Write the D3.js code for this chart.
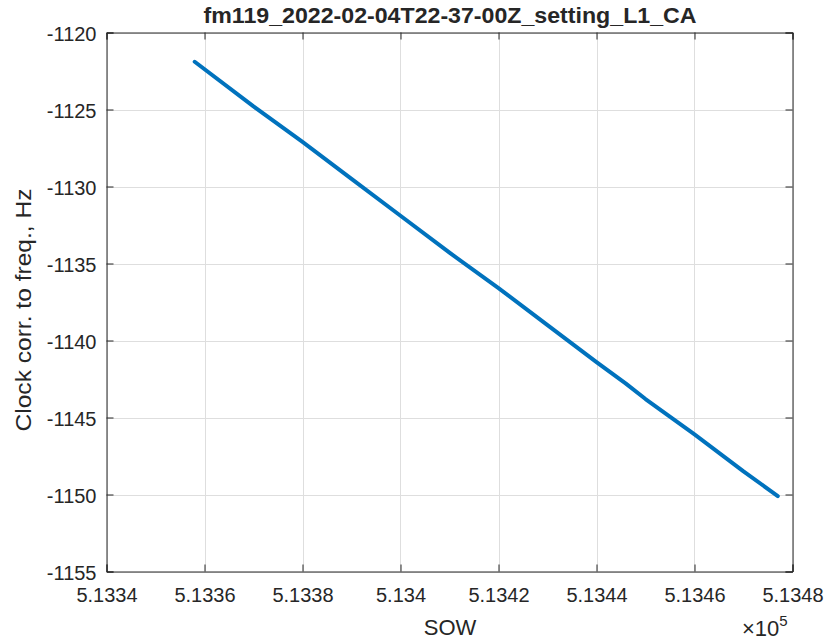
<!DOCTYPE html>
<html>
<head>
<meta charset="utf-8">
<script src="https://cdn.jsdelivr.net/npm/d3@7"></script>
<style>
  body { margin: 0; background: #fff; }
  svg text { font-family: "Liberation Sans", Arial, Helvetica, sans-serif; fill: #262626; }
</style>
</head>
<body>
<svg id="chart" width="825" height="641"></svg>
<script>
// values (SOW, clock correction in Hz)
const sow = [513358, 513370, 513380, 513390, 513400, 513410, 513420, 513430, 513440, 513446, 513450, 513460, 513470, 513477];
const clk = [-1121.9, -1124.8, -1127.1, -1129.5, -1131.9, -1134.3, -1136.6, -1139.0, -1141.4, -1142.8, -1143.8, -1146.1, -1148.5, -1150.1];

const xTicks = [513340, 513360, 513380, 513400, 513420, 513440, 513460, 513480];
const yTicks = [-1155, -1150, -1145, -1140, -1135, -1130, -1125, -1120];

const titleText = 'fm119_2022-02-04T22-37-00Z_setting_L1_CA';
const xLabel = 'SOW';
const yLabel = 'Clock corr. to freq., Hz';

const pLeft = 106.5, pRight = 792.5, pTop = 32.5, pBottom = 571.5;

const svg = d3.select('#chart');
svg.append('rect').attr('width', 825).attr('height', 641).attr('fill', '#fff');

const x = d3.scaleLinear().domain([513340, 513480]).range([pLeft, pRight]);
const y = d3.scaleLinear().domain([-1155, -1120]).range([pBottom, pTop]);

// grid
const grid = svg.append('g').attr('stroke', '#dedede').attr('stroke-width', 1);
grid.selectAll('.gx').data(xTicks).enter().append('line')
    .attr('x1', d => Math.round(x(d)) + 0.5).attr('x2', d => Math.round(x(d)) + 0.5)
    .attr('y1', pTop).attr('y2', pBottom);
grid.selectAll('.gy').data(yTicks).enter().append('line')
    .attr('y1', d => Math.round(y(d)) + 0.5).attr('y2', d => Math.round(y(d)) + 0.5)
    .attr('x1', pLeft).attr('x2', pRight);

// axes with inward ticks on all four sides
const fmtX = d => String(+(d / 1e5).toFixed(4));
const fmtY = d => String(d);
const axB = svg.append('g').attr('transform', `translate(0,${pBottom})`)
    .call(d3.axisBottom(x).tickValues(xTicks).tickSize(-7).tickFormat(fmtX));
const axT = svg.append('g').attr('transform', `translate(0,${pTop})`)
    .call(d3.axisTop(x).tickValues(xTicks).tickSize(-7).tickFormat(''));
const axL = svg.append('g').attr('transform', `translate(${pLeft},0)`)
    .call(d3.axisLeft(y).tickValues(yTicks).tickSize(-7).tickFormat(fmtY));
const axR = svg.append('g').attr('transform', `translate(${pRight},0)`)
    .call(d3.axisRight(y).tickValues(yTicks).tickSize(-7).tickFormat(''));

[axB, axT, axL, axR].forEach(a => {
    a.select('.domain').attr('stroke', '#262626').attr('stroke-width', 1);
    a.selectAll('.tick line').attr('stroke', '#262626');
    a.selectAll('.tick text').attr('font-size', 20).style('fill', '#262626')
        .attr('font-family', '"Liberation Sans", Arial, sans-serif');
});
axB.selectAll('.tick text').attr('dy', 0).attr('y', 30);
axL.selectAll('.tick text').attr('dy', 0).attr('y', 8).attr('x', -10);

// data line
svg.append('path')
    .datum(sow.map((s, i) => [s, clk[i]]))
    .attr('fill', 'none')
    .attr('stroke', '#0072BD')
    .attr('stroke-width', 4)
    .attr('stroke-linejoin', 'round')
    .attr('stroke-linecap', 'round')
    .attr('d', d3.line().x(d => x(d[0])).y(d => y(d[1])));

// title and labels
svg.append('text').attr('x', 450).attr('y', 23).attr('text-anchor', 'middle')
    .attr('font-size', 22).attr('font-weight', 'bold')
    .attr('textLength', 493).attr('lengthAdjust', 'spacingAndGlyphs')
    .text(titleText);

svg.append('text').attr('x', 450).attr('y', 635).attr('text-anchor', 'middle')
    .attr('font-size', 22).text(xLabel);

svg.append('text').attr('transform', 'translate(31,310) rotate(-90)')
    .attr('text-anchor', 'middle').attr('font-size', 22)
    .attr('textLength', 243).attr('lengthAdjust', 'spacingAndGlyphs')
    .text(yLabel);

// exponent
const ex = svg.append('text').attr('x', 742).attr('y', 636).attr('font-size', 22);
ex.append('tspan').text('\u00d710');
ex.append('tspan').attr('dy', -10).attr('font-size', 15).text('5');
</script>
</body>
</html>
